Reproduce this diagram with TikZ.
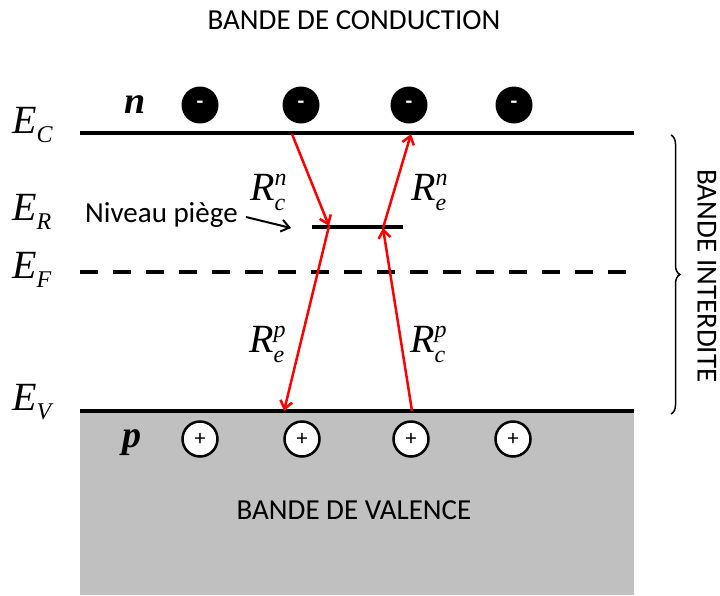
\documentclass[tikz,border=0pt]{standalone}
\usepackage{fontspec}
\setmainfont{Carlito}
\newfontfamily\tms{Liberation Serif}
\usetikzlibrary{arrows.meta,decorations.pathreplacing}
\definecolor{bandgray}{RGB}{192,192,192}
\newcommand{\lvlsub}[1]{\raisebox{-9pt}{\fontsize{24}{24}\selectfont #1}}
\newcommand{\ratelab}[2]{R\rlap{\raisebox{15pt}{\fontsize{24}{24}\selectfont #1}}\raisebox{-10pt}{\fontsize{24}{24}\selectfont #2}}
\begin{document}
\begin{tikzpicture}[x=1pt,y=-1pt,
  level/.style={line width=4pt},
  redarrow/.style={red,line width=2.5pt,-{Straight Barb[length=8pt,width=12pt]}},
  elec/.style={circle,fill=black,minimum size=37pt,inner sep=0pt,text=white,font=\fontsize{22}{22}\selectfont\bfseries},
  hole/.style={circle,fill=white,draw=black,line width=2.5pt,minimum size=35pt,inner sep=0pt,font=\fontsize{22}{22}\selectfont},
  elab/.style={anchor=base west,inner sep=0pt,font=\fontsize{40}{40}\selectfont\tms\itshape},
  rlab/.style={anchor=base west,inner sep=0pt,font=\fontsize{40}{40}\selectfont\tms\itshape},
  band/.style={font=\fontsize{29}{29}\selectfont,inner sep=0pt}]
\useasboundingbox (0,0) rectangle (720,595);
% valence band
\fill[bandgray] (80,411) rectangle (634,595);
% levels
\draw[level] (80,133) coordinate (ecL) -- (634,133) coordinate (ecR);
\draw[level,dash pattern=on 18pt off 15pt] (80,272) coordinate (efL) -- (634,272) coordinate (efR);
\draw[level] (80,411) coordinate (evL) -- (634,411) coordinate (evR);
\draw[level] (312,227) coordinate (trL) -- (403,227) coordinate (trR);
% level labels
\node[elab] (EC) at (12,133) {E\lvlsub{C}};
\node[elab] (ER) at (12,220) {E\lvlsub{R}};
\node[elab] (EF) at (12,278) {E\lvlsub{F}};
\node[elab] (EV) at (12,410) {E\lvlsub{V}};
% carriers
\node[anchor=base west,inner sep=0pt,font=\fontsize{38}{38}\selectfont\tms\bfseries\itshape] (nlab) at (124,113) {n};
\node[anchor=base west,inner sep=0pt,font=\fontsize{38}{38}\selectfont\tms\bfseries\itshape] (plab) at (122,447) {p};
\foreach \x/\n in {200/1,301/2,409/3,514/4}{
  \node[elec] (e\n) at (\x,105) {-};
}
\foreach \x/\n in {200/1,302/2,411/3,513/4}{
  \node[hole] (h\n) at (\x,439) {+};
}
% transitions
\coordinate (c1) at (292,134);
\coordinate (t1) at (329,226);
\coordinate (v1) at (284,411);
\coordinate (v2) at (412,411);
\coordinate (t2) at (383,228);
\coordinate (c2) at (411,134);
\draw[redarrow] (c1) -- (t1);
\draw[redarrow] (t1) -- (v1);
\draw[redarrow] (v2) -- (t2);
\draw[redarrow] (t2) -- (c2);
\node[rlab] (Rcn) at (250,200) {\ratelab{n}{c}};
\node[rlab] (Ren) at (411,200) {\ratelab{n}{e}};
\node[rlab] (Rep) at (249,352) {\ratelab{p}{e}};
\node[rlab] (Rcp) at (410,352) {\ratelab{p}{c}};
% trap label
\node[band,anchor=base west] (niv) at (85,222) {Niveau piège};
\coordinate (nivEnd) at (291,228);
\coordinate (nivStart) at (246,217);
\draw[black,line width=2pt,-{Straight Barb[length=8pt,width=12pt]}] (nivStart) -- (nivEnd);
% band titles
\node[band] (bc) at (354,20) {BANDE DE CONDUCTION};
\node[band] (bv) at (354,510) {BANDE DE VALENCE};
\coordinate (brT) at (671,135);
\coordinate (brB) at (671,414);
\draw[line width=1.5pt,decorate,decoration={brace,amplitude=9pt}] (brT) -- (brB);
\node[band,rotate=-90] (bi) at (707,276) {BANDE INTERDITE};
\end{tikzpicture}
\end{document}
